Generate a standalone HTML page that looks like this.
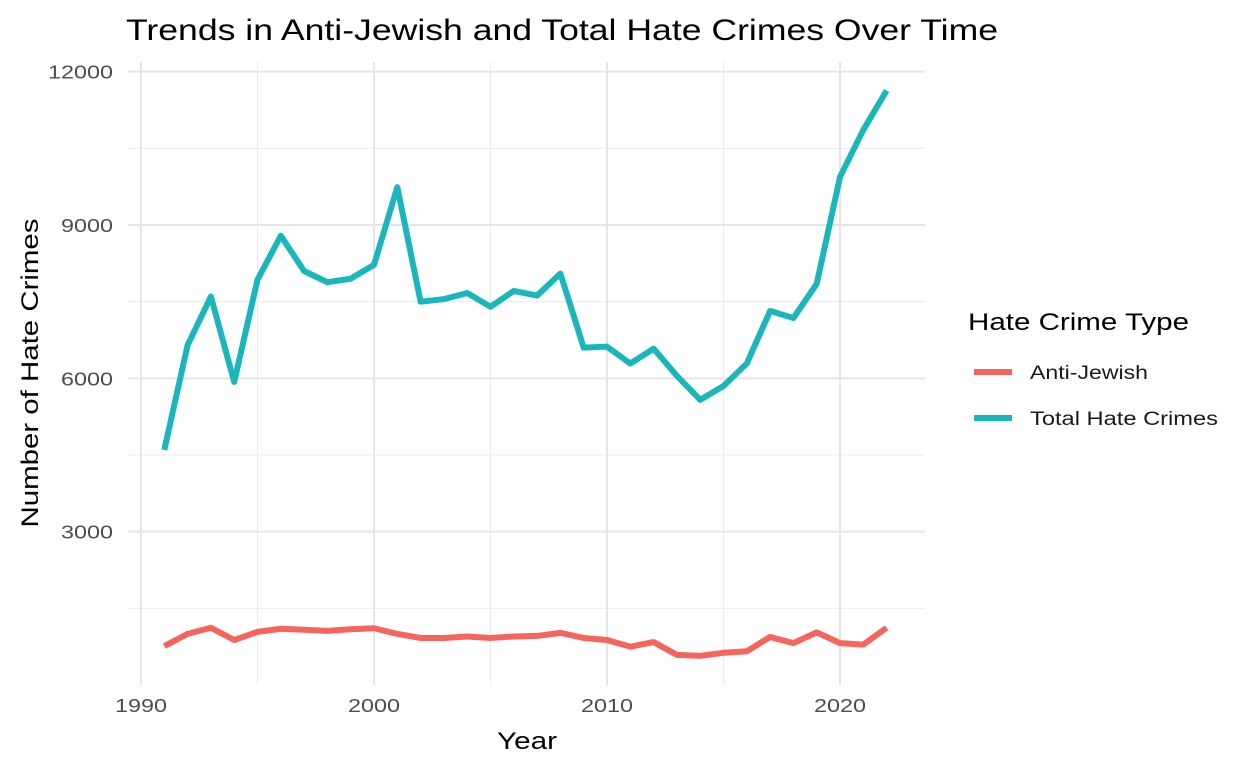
<!DOCTYPE html>
<html><head><meta charset="utf-8"><style>
body{margin:0;background:#fff;font-family:"Liberation Sans",sans-serif}
</style></head><body>
<svg id="chart" width="1248" height="768" xmlns="http://www.w3.org/2000/svg">
<text x="126" y="40" font-size="30" fill="#000" textLength="872" lengthAdjust="spacingAndGlyphs">Trends in Anti-Jewish and Total Hate Crimes Over Time</text>
<g id="grid"></g>
<g id="lines"></g>
<g id="axes"></g>
<text x="527" y="749" font-size="24" text-anchor="middle" textLength="60" lengthAdjust="spacingAndGlyphs">Year</text>
<text transform="translate(38,373) rotate(-90)" font-size="24" text-anchor="middle" textLength="309" lengthAdjust="spacingAndGlyphs">Number of Hate Crimes</text>
<g>
<text x="968" y="330" font-size="24" textLength="221" lengthAdjust="spacingAndGlyphs">Hate Crime Type</text>
<line x1="974" y1="372" x2="1012" y2="372" stroke="#F5655E" stroke-width="6"/>
<text x="1030" y="379" font-size="19" fill="#1a1a1a" textLength="118" lengthAdjust="spacingAndGlyphs">Anti-Jewish</text>
<line x1="974" y1="418" x2="1012" y2="418" stroke="#1AB6BB" stroke-width="6"/>
<text x="1030" y="425" font-size="19" fill="#1a1a1a" textLength="188" lengthAdjust="spacingAndGlyphs">Total Hate Crimes</text>
</g>
</svg>
<script>
const years=[1991,1992,1993,1994,1995,1996,1997,1998,1999,2000,2001,2002,2003,2004,2005,2006,2007,2008,2009,2010,2011,2012,2013,2014,2015,2016,2017,2018,2019,2020,2021,2022];
const totalCrimes=[4600,6650,7600,5930,7930,8790,8100,7880,7950,8220,9740,7500,7550,7670,7400,7710,7620,8050,6600,6620,6290,6580,6050,5580,5850,6290,7320,7180,7850,9940,10860,11630];
const antiJewish=[760,1000,1120,880,1040,1100,1080,1060,1090,1110,1000,920,920,950,920,950,960,1020,920,880,750,840,590,570,630,660,940,820,1030,820,790,1120];
const xTicks=[1990,2000,2010,2020];
const xMinor=[1995,2005,2015];
const yTicks=[3000,6000,9000,12000];
const yMinor=[1500,4500,7500,10500];
const NS="http://www.w3.org/2000/svg";
const X=v=>141+(v-1990)*23.3;
const Y=v=>685-v*0.05111;
const L=128,R=925,T=62,B=685;
function mk(tag,attrs,parent){const e=document.createElementNS(NS,tag);for(const k in attrs)e.setAttribute(k,attrs[k]);document.getElementById(parent).appendChild(e);return e;}
yMinor.forEach(v=>{const e=mk('line',{x1:L,x2:R,y1:Y(v),y2:Y(v),stroke:'#ebebeb','stroke-width':1},'grid');

});
xMinor.forEach(v=>{const e=mk('line',{x1:X(v),x2:X(v),y1:T,y2:B,stroke:'#ebebeb','stroke-width':1},'grid');

});
yTicks.forEach(v=>{const e=mk('line',{x1:L,x2:R,y1:Y(v),y2:Y(v),stroke:'#e5e5e5','stroke-width':2},'grid');


const s=String(v);
const t=mk('text',{x:113,y:Y(v)+7,'font-size':18,fill:'#4d4d4d','text-anchor':'end',textLength:s.length*13,lengthAdjust:'spacingAndGlyphs'},'axes');t.textContent=s;

});
xTicks.forEach(v=>{const e=mk('line',{x1:X(v),x2:X(v),y1:T,y2:B,stroke:'#e5e5e5','stroke-width':2},'grid');


const t=mk('text',{x:X(v),y:712,'font-size':18,fill:'#4d4d4d','text-anchor':'middle',textLength:52,lengthAdjust:'spacingAndGlyphs'},'axes');t.textContent=v;

});
function line(vals,color,name){const p=mk('polyline',{points:years.map((y,i)=>X(y)+','+Y(vals[i])).join(' '),fill:'none',stroke:color,'stroke-width':6,'stroke-linejoin':'round'},'lines');

}
line(antiJewish,'#F5655E','anti-jewish-line');
line(totalCrimes,'#1AB6BB','total-hate-crimes-line');
</script>
</body></html>
